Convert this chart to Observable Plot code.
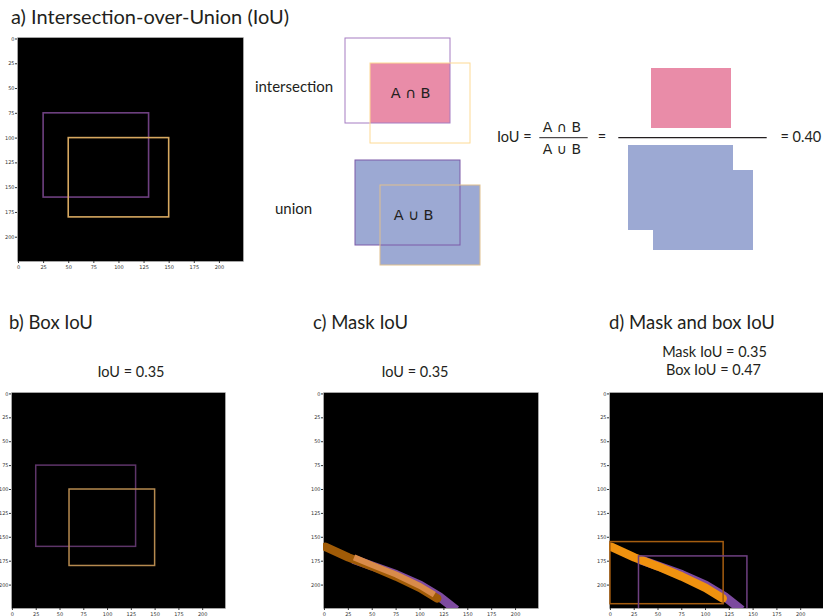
<!DOCTYPE html>
<html><head><meta charset="utf-8">
<script src="https://cdn.jsdelivr.net/npm/d3@7"></script>
<script src="https://cdn.jsdelivr.net/npm/@observablehq/plot@0.6"></script>
<style>
body{margin:0;background:#fff;}
#root{position:relative;width:823px;height:616px;overflow:hidden;background:#fff;}
#root > div, #root > svg{position:absolute;}
</style></head>
<body><div id="root"></div>
<script>
// ---------- data ----------
const tickValues = [0, 25, 50, 75, 100, 125, 150, 175, 200];
// panel a boxes (also the schematic boxes)
const boxesA = [
  {name: "A", x1: 25, y1: 75, x2: 130, y2: 160},
  {name: "B", x1: 50, y1: 100, x2: 150, y2: 180}
];
// panel b boxes
const boxesB = [
  {name: "A", x1: 25, y1: 75, x2: 130, y2: 160},
  {name: "B", x1: 60, y1: 100, x2: 150, y2: 180}
];
// masks (centre lines of the segmentations), panels c and d
const maskA = [[1,160],[25,171],[50,180.5],[75,191],[100,203],[118,214]];
const maskB = [[30,173],[50,180],[75,189],[100,200],[120,212],[138,226]];
const maskOverlap = [[31,171],[50,179],[75,189],[100,201],[115,210]];
// panel d bounding boxes of the masks
const maskBoxes = [
  {name: "A", x1: 0, y1: 155, x2: 119, y2: 220},
  {name: "B", x1: 30, y1: 170, x2: 144, y2: 226}
];
const iouValues = {a: "0.40", b: "0.35", c: "0.35", dMask: "0.35", dBox: "0.47"};

// ---------- helpers ----------
const root = document.getElementById("root");
function place(node, left, top) {
  const wrap = document.createElement("div");
  wrap.style.left = left + "px";
  wrap.style.top = top + "px";
  wrap.appendChild(node);
  root.appendChild(wrap);
}
const pts = a => a.map(([x, y]) => ({x, y}));
function intersect(a, b) {
  return {x1: Math.max(a.x1, b.x1), y1: Math.max(a.y1, b.y1), x2: Math.min(a.x2, b.x2), y2: Math.min(a.y2, b.y2)};
}

function imagePanel({left, top, width, height, mL, mR, mT, mB, marks}) {
  const p = Plot.plot({
    width, height, marginLeft: mL, marginRight: mR, marginTop: mT, marginBottom: mB,
    x: {domain: [-1, 224], label: null},
    y: {domain: [-1.5, 224.5], reverse: true, label: null},
    style: {background: "transparent", overflow: "visible", fontFamily: "DejaVu Sans", color: "#333"},
    marks: [
      Plot.frame({fill: "black", stroke: "#ccc", strokeWidth: 0.5}),
      ...marks,
      Plot.axisX({ticks: tickValues, tickSize: 2, tickPadding: 1.5, fontSize: 5, anchor: "bottom", label: null}),
      Plot.axisY({ticks: tickValues, tickSize: 2, tickPadding: 1, fontSize: 5, anchor: "left", label: null})
    ]
  });
  place(p, left, top);
}

function schematic({left, top, xd, yd, marks}) {
  const p = Plot.plot({
    width: xd[1] - xd[0], height: yd[1] - yd[0], margin: 0,
    x: {domain: xd, axis: null}, y: {domain: yd, reverse: true, axis: null},
    style: {background: "transparent", overflow: "visible"},
    marks
  });
  place(p, left, top);
}

// ---------- panel a image ----------
imagePanel({left: 0, top: 30, width: 244, height: 240, mL: 17, mR: 1, mT: 7, mB: 9, marks: [
  Plot.rect(boxesA, {x1: "x1", y1: "y1", x2: "x2", y2: "y2", fill: "none", strokeWidth: 1.6,
    stroke: d => d.name === "A" ? "#6e4080" : "#d7a860"})
]});

// ---------- schematic: intersection ----------
const inter = intersect(boxesA[0], boxesA[1]);
schematic({left: 340, top: 33, xd: [20, 155], yd: [70, 185], marks: [
  Plot.rect([inter], {x1: "x1", y1: "y1", x2: "x2", y2: "y2", fill: "#e98ca8"}),
  Plot.rect(boxesA, {x1: "x1", y1: "y1", x2: "x2", y2: "y2", fill: "none", strokeWidth: 1,
    stroke: d => d.name === "A" ? "#a57cc2" : "#fdda94"}),
  Plot.text([inter], {x: d => (d.x1 + d.x2) / 2, y: d => (d.y1 + d.y2) / 2, text: () => "A ∩ B",
    fontSize: 14.5, fontFamily: "'DejaVu Sans'", fill: "#231f20", dy: 0})
]});

// ---------- schematic: union ----------
schematic({left: 350, top: 155, xd: [20, 155], yd: [70, 185], marks: [
  Plot.rect(boxesA, {x1: "x1", y1: "y1", x2: "x2", y2: "y2", fill: "#9ca9d3"}),
  Plot.rect(boxesA, {x1: "x1", y1: "y1", x2: "x2", y2: "y2", fill: "none", strokeWidth: 1,
    stroke: d => d.name === "A" ? "#7c5aa8" : "#dfc08d"}),
  Plot.text([inter], {x: d => (d.x1 + d.x2) / 2, y: d => (d.y1 + d.y2) / 2, text: () => "A ∪ B",
    fontSize: 14.5, fontFamily: "'DejaVu Sans'", fill: "#231f20", dx: -7})
]});

// ---------- formula numerator / denominator ----------
schematic({left: 646, top: 63, xd: [45, 135], yd: [95, 165], marks: [
  Plot.rect([inter], {x1: "x1", y1: "y1", x2: "x2", y2: "y2", fill: "#e98ca8"})
]});
schematic({left: 623, top: 140, xd: [20, 155], yd: [70, 185], marks: [
  Plot.rect(boxesA, {x1: "x1", y1: "y1", x2: "x2", y2: "y2", fill: "#9ca9d3"})
]});

// ---------- panel b ----------
imagePanel({left: 0, top: 385, width: 226, height: 231, mL: 11, mR: 1, mT: 7, mB: 8, marks: [
  Plot.rect(boxesB, {x1: "x1", y1: "y1", x2: "x2", y2: "y2", fill: "none", strokeWidth: 1.5,
    stroke: d => d.name === "A" ? "#5e3569" : "#b68a4f"})
]});

// ---------- panel c ----------
imagePanel({left: 300, top: 385, width: 240, height: 231, mL: 23, mR: 2, mT: 7, mB: 8, marks: [
  Plot.line(pts(maskB), {x: "x", y: "y", stroke: "#7d4b9f", strokeWidth: 9, strokeLinecap: "butt", clip: true}),
  Plot.line(pts(maskA), {x: "x", y: "y", stroke: "#a05b07", strokeWidth: 8.5, strokeLinecap: "round", clip: true}),
  Plot.line(pts(maskOverlap), {x: "x", y: "y", stroke: "#d98b4a", strokeWidth: 6, strokeLinecap: "butt", clip: true})
]});

// ---------- panel d ----------
imagePanel({left: 590, top: 385, width: 233, height: 231, mL: 19, mR: 0, mT: 7, mB: 8, marks: [
  Plot.line(pts(maskB), {x: "x", y: "y", stroke: "#7c4a9e", strokeWidth: 9, strokeLinecap: "butt", clip: true}),
  Plot.line(pts(maskA), {x: "x", y: "y", stroke: "#f0920f", strokeWidth: 8.5, strokeLinecap: "round", clip: true}),
  Plot.rect(maskBoxes, {x1: "x1", y1: "y1", x2: "x2", y2: "y2", fill: "none", strokeWidth: 1.5, clip: true,
    stroke: d => d.name === "A" ? "#a55d10" : "#6e4081"})
]});

// ---------- text overlay ----------
const svg = d3.select(root).append("svg")
  .attr("width", 823).attr("height", 616)
  .style("left", "0px").style("top", "0px").style("pointer-events", "none")
  .attr("font-family", "Lato, sans-serif").attr("fill", "#231f20");
const texts = [
  {t: "a) Intersection-over-Union (IoU)", x: 11, y: 24, s: 20, a: "start"},
  {t: "intersection", x: 255, y: 91.5, s: 15, a: "start"},
  {t: "union", x: 275, y: 214, s: 15, a: "start"},
  {t: "IoU =", x: 497, y: 141.7, s: 14.5, a: "start"},
  {t: "=", x: 602, y: 141.7, s: 14.5, a: "middle"},
  {t: "= " + iouValues.a, x: 780.5, y: 141.7, s: 14.5, a: "start"},
  {t: "b) Box IoU", x: 9, y: 328.5, s: 18.5, a: "start"},
  {t: "c) Mask IoU", x: 313, y: 328.5, s: 18.5, a: "start"},
  {t: "d) Mask and box IoU", x: 609, y: 328.5, s: 18.5, a: "start"},
  {t: "IoU = " + iouValues.b, x: 131, y: 376.5, s: 14.5, a: "middle"},
  {t: "IoU = " + iouValues.c, x: 415, y: 376.5, s: 14.5, a: "middle"},
  {t: "Mask IoU = " + iouValues.dMask, x: 714.5, y: 356.7, s: 14.5, a: "middle"},
  {t: "Box IoU = " + iouValues.dBox, x: 713.5, y: 375, s: 14.5, a: "middle"}
];
svg.selectAll("text.t").data(texts).join("text").attr("class", "t")
  .attr("x", d => d.x).attr("y", d => d.y).attr("font-size", d => d.s)
  .attr("text-anchor", d => d.a).text(d => d.t);
// small fraction with set symbols
const frac = [{t: "A ∩ B", y: 131.7}, {t: "A ∪ B", y: 154}];
svg.selectAll("text.f").data(frac).join("text").attr("class", "f")
  .attr("x", 562).attr("y", d => d.y).attr("font-size", 14).attr("text-anchor", "middle")
  .attr("font-family", "'DejaVu Sans'").text(d => d.t);
svg.append("line").attr("x1", 539.3).attr("x2", 587.7).attr("y1", 137.7).attr("y2", 137.7)
  .attr("stroke", "#231f20").attr("stroke-width", 1);
svg.append("line").attr("x1", 618.3).attr("x2", 766.7).attr("y1", 137.7).attr("y2", 137.7)
  .attr("stroke", "#231f20").attr("stroke-width", 1.2);
</script>
</body></html>
